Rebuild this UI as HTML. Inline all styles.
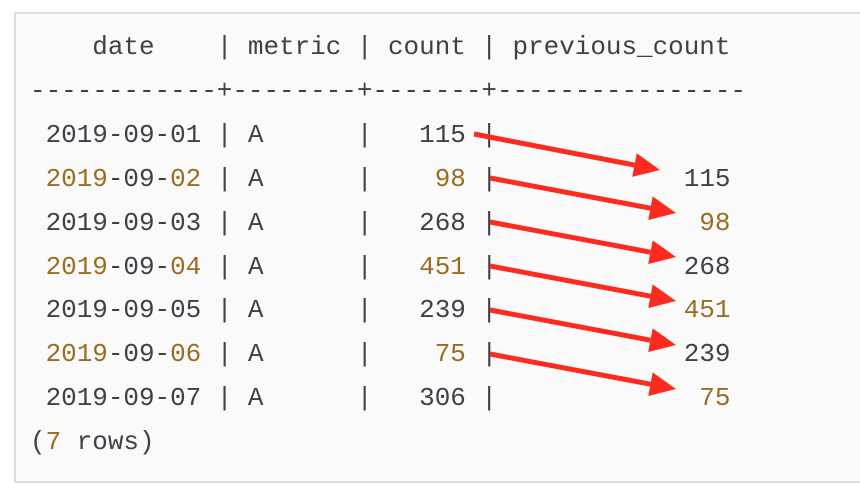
<!DOCTYPE html>
<html><head><meta charset="utf-8"><style>
html,body{margin:0;padding:0;background:#fff;width:860px;height:490px;overflow:hidden}
#box{position:absolute;left:14px;top:12px;width:860px;height:467px;background:#fafafa;border:2px solid #ddd;border-right:none}
#code{position:absolute;left:30px;top:26px;margin:0;font-family:"Liberation Mono",monospace;font-size:25.95px;line-height:43.9px;color:#3f4148;white-space:pre}
.o{color:#9a6d22}
svg{position:absolute;left:0;top:0}
</style></head><body>
<div id="box"></div>
<pre id="code"></pre>
<svg id="arrows" width="860" height="490"></svg>
<script>
const dates=["2019-09-01","2019-09-02","2019-09-03","2019-09-04","2019-09-05","2019-09-06","2019-09-07"];
const metrics=["A","A","A","A","A","A","A"];
const counts=[115,98,268,451,239,75,306];
const pad=(s,n)=>String(s).padStart(n," ");
const padR=(s,n)=>String(s).padEnd(n," ");
let html="    date    | metric | count | previous_count\n";
html+="------------+--------+-------+----------------\n";
for(let i=0;i<dates.length;i++){
  const odd=i%2===1;
  const d=dates[i];
  const dd=odd?'<span class="o">'+d.slice(0,4)+'</span>'+d.slice(4,8)+'<span class="o">'+d.slice(8)+'</span>':d;
  const c=pad(counts[i],5);
  const cc=odd?c.replace(String(counts[i]),'<span class="o">'+counts[i]+'</span>'):c;
  let p="";
  if(i>0){const pv=counts[i-1];const ps=pad(pv,14);p=(i%2===0)?ps.replace(String(pv),'<span class="o">'+pv+'</span>'):ps;}
  html+=" "+dd+" | "+padR(metrics[i],6)+" | "+cc+" | "+p+"\n";
}
html+='(<span class="o">7</span> rows)';
document.getElementById('code').innerHTML=html;
const svg=document.getElementById('arrows');
const NS="http://www.w3.org/2000/svg";
for(let i=0;i<dates.length-1;i++){
  const y0=134+i*44, x0=i===0?474:490, x1=i===0?660:676, y1=y0+(i===0?36:35);
  const ang=Math.atan2(y1-y0,x1-x0);
  const L=26,W=12;
  const bx=x1-L*Math.cos(ang), by=y1-L*Math.sin(ang);
  const ln=document.createElementNS(NS,'line');
  
  
  ln.setAttribute('x1',x0);ln.setAttribute('y1',y0);ln.setAttribute('x2',bx);ln.setAttribute('y2',by);
  ln.setAttribute('stroke','#fc2a1f');ln.setAttribute('stroke-width','5');
  svg.appendChild(ln);
  const px=-Math.sin(ang),py=Math.cos(ang);
  const pg=document.createElementNS(NS,'polygon');
  
  
  pg.setAttribute('points',`${x1},${y1} ${bx+px*W},${by+py*W} ${bx-px*W},${by-py*W}`);
  pg.setAttribute('fill','#fc2a1f');
  svg.appendChild(pg);
}
</script>
</body></html>
